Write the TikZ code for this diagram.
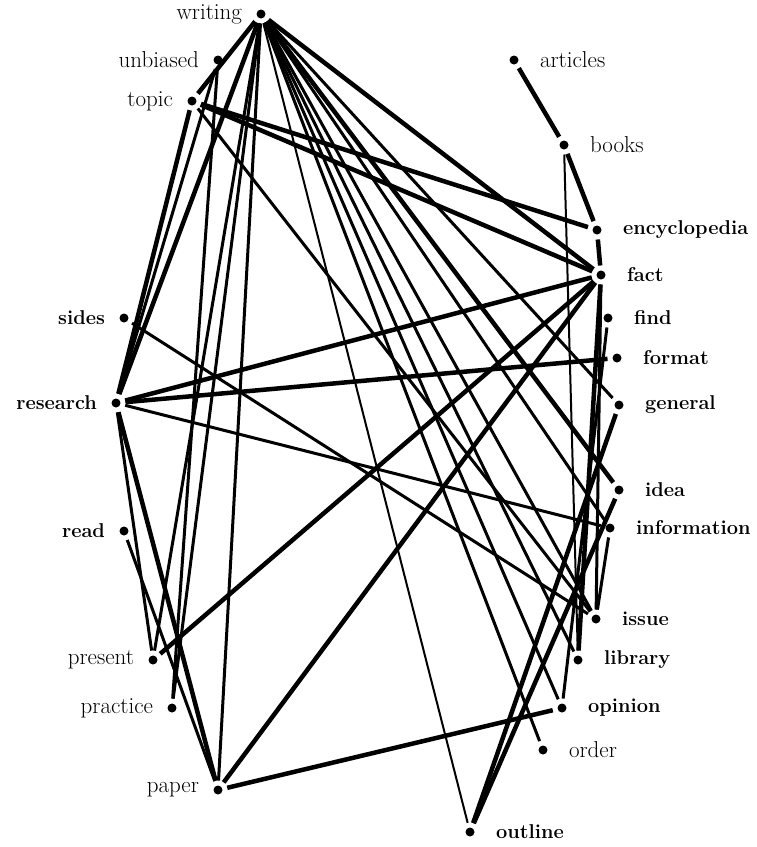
\documentclass[tikz,border=0pt]{standalone}
\usepackage{tikz}
\usetikzlibrary{positioning}

\begin{document}
\begin{tikzpicture}[
    x=1pt, y=-1pt,
    word dot/.style={circle, fill=black, inner sep=0pt, minimum size=9pt, outer sep=5pt},
    plain word/.style={font=\fontsize{23}{26}\selectfont},
    bold word/.style={font=\bfseries\fontsize{20}{24}\selectfont},
    left word/.style={label distance=6pt},
    right word/.style={label distance=13pt},
    thick link/.style={line width=4.5pt},
    mid link/.style={line width=3pt},
    thin link/.style={line width=2pt}
]
    \useasboundingbox (0,0) rectangle (756,847);

    % left and top words
    \node[word dot, label={[plain word, left word]left:writing}] (writing) at (261,14) {};
    \node[word dot, label={[plain word, left word]left:unbiased}] (unbiased) at (218,60) {};
    \node[word dot, label={[plain word, left word]left:topic}] (topic) at (192,101) {};
    \node[word dot, label={[bold word, left word]left:sides}] (sides) at (124,318) {};
    \node[word dot, label={[bold word, left word]left:research}] (research) at (116,403) {};
    \node[word dot, label={[bold word, left word]left:read}] (read) at (124,531) {};
    \node[word dot, label={[plain word, left word]left:present}] (present) at (153,660) {};
    \node[word dot, label={[plain word, left word]left:practice}] (practice) at (172,708) {};
    \node[word dot, label={[plain word, left word]left:paper}] (paper) at (218,790) {};

    % right words
    \node[word dot, label={[plain word, right word]right:articles}] (articles) at (514,60) {};
    \node[word dot, label={[plain word, right word]right:books}] (books) at (564,145) {};
    \node[word dot, label={[bold word, right word]right:encyclopedia}] (encyclopedia) at (597,230) {};
    \node[word dot, label={[bold word, right word]right:fact}] (fact) at (601,275) {};
    \node[word dot, label={[bold word, right word]right:find}] (find) at (608,318) {};
    \node[word dot, label={[bold word, right word]right:format}] (format) at (617,358) {};
    \node[word dot, label={[bold word, right word]right:general}] (general) at (619,405) {};
    \node[word dot, label={[bold word, right word]right:idea}] (idea) at (619,490) {};
    \node[word dot, label={[bold word, right word]right:information}] (information) at (610,528) {};
    \node[word dot, label={[bold word, right word]right:issue}] (issue) at (596,619) {};
    \node[word dot, label={[bold word, right word]right:library}] (library) at (578,660) {};
    \node[word dot, label={[bold word, right word]right:opinion}] (opinion) at (562,708) {};
    \node[word dot, label={[plain word, right word]right:order}] (order) at (543,750) {};
    \node[word dot, label={[bold word, right word]right:outline}] (outline) at (470,832) {};

    % from writing
    \draw[thick link] (writing) -- (topic);
    \draw[thick link] (writing) -- (research);
    \draw[mid link] (writing) -- (present);
    \draw[mid link] (writing) -- (practice);
    \draw[mid link] (writing) -- (paper);
    \draw[thick link] (writing) -- (fact);
    \draw[mid link] (writing) -- (general);
    \draw[thick link] (writing) -- (idea);
    \draw[mid link] (writing) -- (information);
    \draw[mid link] (writing) -- (issue);
    \draw[mid link] (writing) -- (library);
    \draw[mid link] (writing) -- (opinion);
    \draw[mid link] (writing) -- (order);
    \draw[thin link] (writing) -- (outline);

    % left side
    \draw[thick link] (topic) -- (research);
    \draw[mid link] (unbiased) -- (research);
    \draw[mid link] (unbiased) -- (practice);
    \draw[thick link] (research) -- (paper);
    \draw[mid link] (research) -- (present);
    \draw[mid link] (read) -- (paper);

    % across the middle
    \draw[thick link] (topic) -- (encyclopedia);
    \draw[thick link] (topic) -- (fact);
    \draw[mid link] (topic) -- (issue);
    \draw[thick link] (research) -- (fact);
    \draw[thick link] (research) -- (format);
    \draw[mid link] (research) -- (information);
    \draw[mid link] (sides) -- (issue);
    \draw[thick link] (present) -- (fact);
    \draw[thick link] (paper) -- (fact);
    \draw[thick link] (paper) -- (opinion);

    % right side
    \draw[thick link] (articles) -- (books);
    \draw[thick link] (books) -- (encyclopedia);
    \draw[thin link] (books) -- (library);
    \draw[thick link] (encyclopedia) -- (fact);
    \draw[thick link] (fact) -- (library);
    \draw[mid link] (fact) -- (issue);
    \draw[mid link] (find) -- (opinion);
    \draw[mid link] (information) -- (issue);
    \draw[thick link] (outline) -- (general);
    \draw[thick link] (outline) -- (idea);
\end{tikzpicture}
\end{document}
